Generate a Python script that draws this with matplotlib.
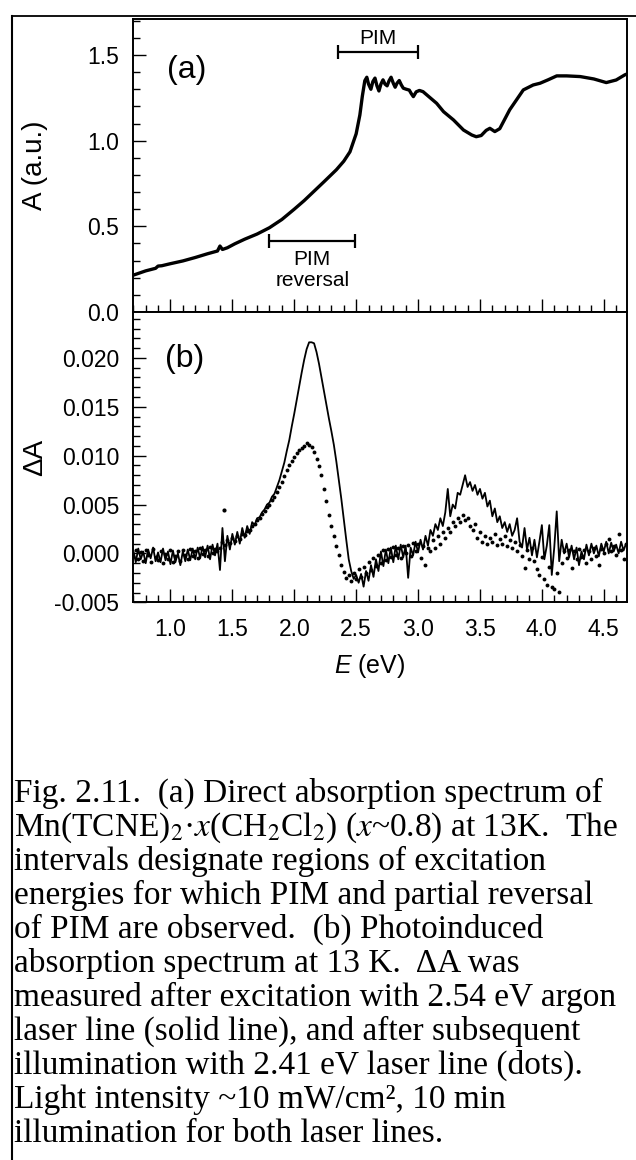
import numpy as np
import matplotlib
matplotlib.use("Agg")
import matplotlib.pyplot as plt
from matplotlib.ticker import MultipleLocator, FormatStrFormatter
from matplotlib.lines import Line2D

plt.rcParams['font.family'] = ['Liberation Sans', 'DejaVu Sans']
plt.rcParams['axes.unicode_minus'] = False
plt.rcParams['mathtext.fontset'] = 'custom'
plt.rcParams['mathtext.rm'] = 'Liberation Sans'
plt.rcParams['mathtext.it'] = 'Liberation Sans:italic'

# ── (a) direct absorption spectrum ─────────────────────────────────────
abs_E = [0.70, 0.80, 0.88, 0.90, 0.93, 1.00, 1.10, 1.20, 1.30, 1.38, 1.40, 1.42,
         1.46, 1.52, 1.60, 1.70, 1.80, 1.90, 2.00, 2.08, 2.16, 2.24, 2.34, 2.40,
         2.45, 2.50, 2.53, 2.55, 2.57, 2.586, 2.60, 2.619, 2.635, 2.652, 2.668,
         2.684, 2.70, 2.717, 2.733, 2.75, 2.766, 2.782, 2.80, 2.815, 2.83, 2.848,
         2.865, 2.881, 2.905, 2.929, 2.945, 2.962, 2.985, 3.011, 3.04, 3.09,
         3.15, 3.206, 3.286, 3.367, 3.434, 3.47, 3.51, 3.55, 3.58, 3.62, 3.66,
         3.74, 3.85, 3.93, 3.985, 4.05, 4.12, 4.20, 4.31, 4.42, 4.52, 4.60,
         4.67, 4.69]
abs_A = [0.215, 0.240, 0.255, 0.268, 0.270, 0.282, 0.298, 0.318, 0.340, 0.356,
         0.385, 0.365, 0.375, 0.398, 0.425, 0.455, 0.492, 0.540, 0.600, 0.650,
         0.705, 0.760, 0.830, 0.880, 0.935, 1.040, 1.150, 1.260, 1.350, 1.370,
         1.330, 1.300, 1.345, 1.365, 1.320, 1.290, 1.330, 1.355, 1.330, 1.320,
         1.350, 1.370, 1.335, 1.312, 1.335, 1.351, 1.325, 1.306, 1.300, 1.295,
         1.275, 1.257, 1.285, 1.293, 1.286, 1.255, 1.218, 1.169, 1.121, 1.062,
         1.033, 1.023, 1.030, 1.060, 1.072, 1.053, 1.070, 1.180, 1.296, 1.325,
         1.335, 1.355, 1.378, 1.378, 1.374, 1.360, 1.339, 1.354, 1.384, 1.390]

pim_range = (2.35, 3.00)
pim_y = 1.516
rev_range = (1.80, 2.49)
rev_y = 0.416

# ── (b) photoinduced absorption, energy grid 0.70 .. 4.70 step 0.02 ─────
dA_E = np.linspace(0.70, 4.70, 201)
# solid line: after 2.54 eV excitation (units of 1e-3)
dA_solid = [
    0.3, -0.9, 0.5, -0.6, 0.2, -1.0, 0.4, -0.5, 0.6, -0.8,
    0.1, -0.9, 0.5, -0.7, 0.2, -1.1, 0.3, -0.9, 0.0, -1.2,
    0.2, -0.8, 0.4, -0.7, 0.5, -0.6, 0.6, -0.5, 0.7, -0.4,
    0.8, -0.6, 0.9, -0.2, 1.0, -1.7, 2.6, -0.8, 1.8, 0.4,
    2.0, 0.9, 2.2, 1.0, 2.6, 1.6, 2.8, 2.0, 3.2, 2.9,
    3.6, 3.7, 4.2, 4.5, 5.0, 5.2, 5.8, 6.1, 6.8, 7.5,
    8.4, 9.3, 10.5, 11.6, 13.0, 14.3, 15.7, 17.1, 18.5, 19.8,
    20.9, 21.6, 21.6, 21.5, 20.6, 19.4, 18.0, 16.6, 15.2, 13.8,
    12.5, 11.1, 9.4, 7.5, 5.6, 3.5, 1.4, -0.6, -1.8, -2.6,
    -2.2, -3.0, -2.1, -3.4, -1.8, -2.8, -1.2, -2.4, -0.6, -1.8,
    0.2, -1.3, 0.4, -1.0, 0.6, -0.9, 0.8, -0.6, 0.9, -0.4,
    0.8, -2.5, 0.6, -0.2, 1.2, 0.1, 1.4, 0.4, 1.8, 0.8,
    2.4, 1.8, 3.0, 2.4, 3.6, 2.8, 4.2, 6.6, 3.8, 5.0,
    4.6, 6.2, 6.0, 7.0, 8.0, 6.8, 7.3, 6.4, 7.0, 6.0,
    6.6, 5.6, 6.2, 4.8, 5.4, 3.8, 4.6, 3.2, 3.8, 2.6,
    3.2, 2.2, 3.0, 1.8, 2.4, 3.6, 1.2, 0.6, 2.6, 0.4,
    1.6, -0.2, 1.4, -0.4, 1.2, 2.9, -0.6, 0.8, 2.9, -2.2,
    0.6, 4.3, -0.8, 1.4, 0.0, 1.0, -0.4, 0.8, -0.6, 0.6,
    -1.2, 0.2, -0.6, 0.9, -0.2, 1.0, 0.0, 0.8, -0.3, 1.0,
    0.2, 1.2, 0.0, 1.1, 0.2, 0.9, 0.0, 1.2, 0.3, 1.0,
    0.6]
# dots: after subsequent 2.41 eV illumination (units of 1e-3)
dA_dots = [
    -0.3, 0.4, -0.6, 0.1, -0.8, 0.3, -0.2, -0.9, 0.5, -0.4,
    -0.7, 0.2, -1.0, -0.1, -0.6, 0.3, -0.9, -0.3, 0.2, -0.8,
    0.4, -0.2, -0.6, 0.5, -0.3, 0.2, -0.5, 0.6, -0.1, 0.4,
    -0.3, 0.7, 0.0, 0.5, 0.2, 0.6, 1.2, 0.9, 1.4, 1.1,
    1.6, 1.3, 1.8, 1.5, 2.0, 1.9, 2.3, 2.4, 2.8, 3.0,
    3.4, 3.6, 4.0, 4.3, 4.7, 5.0, 5.5, 5.8, 6.3, 6.8,
    7.3, 7.9, 8.5, 9.0, 9.5, 9.9, 10.3, 10.6, 10.8, 11.0,
    11.3, 11.1, 10.9, 10.4, 9.7, 8.9, 8.0, 6.6, 5.4, 3.9,
    2.8, 1.8, 0.8, -0.2, -1.2, -1.9, -2.5, -2.2, -2.8, -2.0,
    -2.6, -1.6, -2.4, -1.4, -2.0, -0.9, -1.7, -0.5, -1.3, -0.2,
    -1.0, 0.3, -0.7, 0.5, -0.4, 0.7, -0.2, 0.6, -0.5, 0.8,
    0.0, 0.9, -0.3, 1.1, 0.2, 1.0, -0.5, 0.8, -1.2, 0.6,
    0.2, 1.4, 0.6, 1.8, 1.0, 2.2, 1.6, 2.6, 2.2, 3.2,
    2.8, 3.6, 3.2, 3.9, 3.4, 3.6, 2.8, 2.4, 3.0, 1.6,
    2.2, 1.2, 1.8, 1.0, 1.6, 1.2, 2.0, 0.9, 1.5, 1.0,
    1.8, 0.8, 1.4, 0.6, 1.2, 0.2, 0.9, -0.3, -1.5, 0.4,
    -0.6, 0.6, -0.8, -1.6, -2.2, -0.4, -2.6, -3.2, -1.4, -3.4,
    -3.6, -2.0, -3.9, -1.0, 0.2, -0.5, 0.4, -1.5, 0.2, -0.6,
    0.5, -0.4, 0.3, -1.0, 0.2, -0.6, 0.6, -0.3, -1.2, 0.5,
    0.0, 1.0, 1.5, 0.2, 0.8, -0.2, 2.0, 0.4, -0.6, 1.0,
    0.3]
dots_extra_E = [1.43]
dots_extra_dA = [4.4]

caption = [
    "Fig. 2.11.  (a) Direct absorption spectrum of",
    r"Mn(TCNE)$_2$·$x$(CH$_2$Cl$_2$) ($x$~0.8) at 13K.  The",
    "intervals designate regions of excitation",
    "energies for which PIM and partial reversal",
    "of PIM are observed.  (b) Photoinduced",
    "absorption spectrum at 13 K.  ΔA was",
    "measured after excitation with 2.54 eV argon",
    "laser line (solid line), and after subsequent",
    "illumination with 2.41 eV laser line (dots).",
    "Light intensity ~10 mW/cm², 10 min",
    "illumination for both laser lines.",
]

# ── figure ────────────────────────────────────────────────────────────
W, H = 636, 1160
fig = plt.figure(figsize=(W / 100, H / 100), dpi=100)
left, right = 133.3, 627.3
ax1 = fig.add_axes([left / W, 1 - 312 / H, (right - left) / W, (312 - 19) / H])
ax2 = fig.add_axes([left / W, 1 - 602.3 / H, (right - left) / W, (602.3 - 312) / H],
                   sharex=ax1)

ax1.plot(abs_E, abs_A, color='k', lw=2.4, solid_joinstyle='round')
for (lo, hi), yy in [(pim_range, pim_y), (rev_range, rev_y)]:
    ax1.errorbar((lo + hi) / 2, yy, xerr=(hi - lo) / 2, fmt='none', ecolor='k',
                 elinewidth=1.6, capsize=5, capthick=1.6)
ax1.text(2.675, 1.595, 'PIM', ha='center', va='center', fontsize=15)
ax1.text(2.145, 0.245, 'PIM\nreversal', ha='center', va='center', fontsize=15,
         linespacing=1.15)
ax1.text(0.97, 1.41, '(a)', ha='left', va='center', fontsize=23)
ax1.set_ylim(0, 1.71)
ax1.set_ylabel('A (a.u.)', fontsize=20)
ax1.yaxis.set_label_coords(-0.172, 0.5)
ax1.yaxis.set_major_locator(MultipleLocator(0.5))
ax1.yaxis.set_minor_locator(MultipleLocator(0.1))
ax1.yaxis.set_major_formatter(FormatStrFormatter('%.1f'))

sc = 1e-3
ax2.plot(dA_E, np.array(dA_solid) * sc, color='k', lw=1.3)
ax2.plot(dA_E, np.array(dA_dots) * sc, ls='none', marker='o', ms=2.8,
         mfc='k', mec='k', mew=0)
ax2.plot(dots_extra_E, np.array(dots_extra_dA) * sc, ls='none', marker='o',
         ms=3.0, mfc='k', mew=0)
ax2.text(0.96, 0.0199, '(b)', ha='left', va='center', fontsize=23)
ax2.set_ylim(-0.005, 0.0247)
ax2.set_ylabel('ΔA', fontsize=20)
ax2.yaxis.set_label_coords(-0.172, 0.5)
ax2.yaxis.set_major_locator(MultipleLocator(0.005))
ax2.yaxis.set_minor_locator(MultipleLocator(0.001))
ax2.yaxis.set_major_formatter(FormatStrFormatter('%.3f'))
ax2.set_xlim(0.7, 4.69)
ax2.xaxis.set_major_locator(MultipleLocator(0.5))
ax2.xaxis.set_minor_locator(MultipleLocator(0.1))
ax2.xaxis.set_major_formatter(FormatStrFormatter('%.1f'))
ax2.set_xlabel(r'$E$ (eV)', fontsize=18)
ax2.xaxis.set_label_coords(0.479, -0.17)

for ax in (ax1, ax2):
    for sp in ax.spines.values():
        sp.set_linewidth(1.4)
    ax.tick_params(which='both', direction='in', top=False, right=False,
                   width=1.0, labelsize=16.5)
    ax.tick_params(which='major', length=9.5)
    ax.tick_params(which='minor', length=5)
    ax.tick_params(axis='y', pad=10)
    ax.tick_params(axis='x', pad=11)
ax1.tick_params(axis='x', labelbottom=False)

# outer frame of the scanned page
fx, fy = 11.7 / W, 1 - 15.7 / H
fig.add_artist(Line2D([fx, fx], [0, fy], transform=fig.transFigure, color='k', lw=1.5))
fig.add_artist(Line2D([fx, 1], [fy, fy], transform=fig.transFigure, color='k', lw=1.3))

# caption
for k, line in enumerate(caption):
    base = 802 + 34.0 * k
    fig.text(13.5 / W, 1 - base / H, line, fontsize=24, family='Liberation Serif',
             math_fontfamily='stix', va='baseline', ha='left')

fig.savefig('out.png', dpi=100, facecolor='white')
